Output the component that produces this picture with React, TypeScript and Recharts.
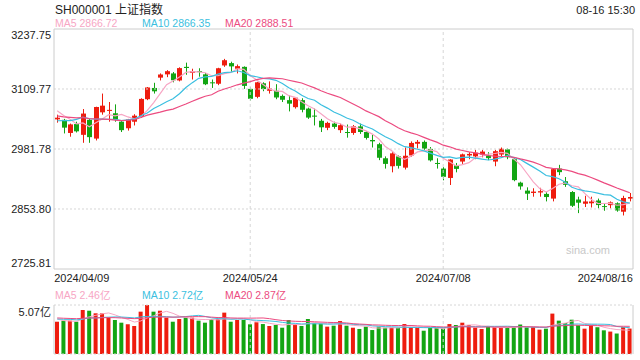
import React from 'react';
import { ComposedChart, Bar, Line, XAxis, YAxis, ReferenceLine, Cell } from 'recharts';

const RED = '#ee1c0e';
const GREEN = '#13a513';
const MA5_COLOR = '#f7a6c4';
const MA10_COLOR = '#3bbfe0';
const MA20_COLOR = '#ec4b80';
const FONT = "Arial, 'Liberation Sans', 'Noto Sans CJK SC', sans-serif";

const dates = [
  '2024/04/09', '2024/04/10', '2024/04/11', '2024/04/12', '2024/04/15', '2024/04/16', '2024/04/17', '2024/04/18', '2024/04/19', '2024/04/22',
  '2024/04/23', '2024/04/24', '2024/04/25', '2024/04/26', '2024/04/29', '2024/04/30', '2024/05/06', '2024/05/07', '2024/05/08', '2024/05/09',
  '2024/05/10', '2024/05/13', '2024/05/14', '2024/05/15', '2024/05/16', '2024/05/17', '2024/05/20', '2024/05/21', '2024/05/22', '2024/05/23',
  '2024/05/24', '2024/05/27', '2024/05/28', '2024/05/29', '2024/05/30', '2024/05/31', '2024/06/03', '2024/06/04', '2024/06/05', '2024/06/06',
  '2024/06/07', '2024/06/11', '2024/06/12', '2024/06/13', '2024/06/14', '2024/06/17', '2024/06/18', '2024/06/19', '2024/06/20', '2024/06/21',
  '2024/06/24', '2024/06/25', '2024/06/26', '2024/06/27', '2024/06/28', '2024/07/01', '2024/07/02', '2024/07/03', '2024/07/04', '2024/07/05',
  '2024/07/08', '2024/07/09', '2024/07/10', '2024/07/11', '2024/07/12', '2024/07/15', '2024/07/16', '2024/07/17', '2024/07/18', '2024/07/19',
  '2024/07/22', '2024/07/23', '2024/07/24', '2024/07/25', '2024/07/26', '2024/07/29', '2024/07/30', '2024/07/31', '2024/08/01', '2024/08/02',
  '2024/08/05', '2024/08/06', '2024/08/07', '2024/08/08', '2024/08/09', '2024/08/12', '2024/08/13', '2024/08/14', '2024/08/15', '2024/08/16',
];

const opens = [
  3045, 3044, 3016, 3035, 3012, 3044, 3004, 3060, 3063, 3058,
  3040, 3026, 3040, 3050, 3088, 3112, 3134, 3141, 3143, 3128,
  3157, 3144, 3148, 3141, 3124, 3121, 3160, 3165, 3153, 3157,
  3110, 3093, 3122, 3106, 3106, 3095, 3086, 3071, 3086, 3068,
  3053, 3042, 3027, 3036, 3022, 3018, 3016, 3030, 3018, 3001,
  2992, 2962, 2945, 2966, 2942, 2968, 2993, 2997, 2982, 2952,
  2940, 2920, 2947, 2955, 2968, 2966, 2970, 2968, 2955, 2970,
  2981, 2960, 2910, 2893, 2888, 2889, 2886, 2876, 2940, 2913,
  2890, 2874, 2865, 2866, 2872, 2860, 2862, 2866, 2848, 2876,
];
const highs = [
  3055, 3046, 3036, 3040, 3067, 3046, 3072, 3100, 3082, 3077,
  3042, 3046, 3056, 3090, 3114, 3123, 3143, 3150, 3146, 3156,
  3166, 3153, 3154, 3144, 3130, 3155, 3174, 3168, 3162, 3158,
  3113, 3125, 3124, 3126, 3120, 3098, 3096, 3092, 3090, 3070,
  3068, 3046, 3040, 3040, 3036, 3034, 3033, 3036, 3020, 3012,
  2995, 2966, 2975, 2968, 2985, 2998, 3001, 3000, 2986, 2962,
  2943, 2960, 2952, 2972, 2975, 2980, 2980, 2975, 2980, 2985,
  2983, 2962, 2912, 2900, 2898, 2899, 2890, 2940, 2948, 2922,
  2892, 2880, 2882, 2880, 2876, 2866, 2870, 2868, 2882, 2888,
];
const lows = [
  3038, 3015, 3008, 3017, 2995, 2995, 3000, 3055, 3040, 3040,
  3018, 3021, 3032, 3048, 3086, 3100, 3128, 3135, 3124, 3126,
  3140, 3130, 3136, 3118, 3112, 3118, 3157, 3146, 3143, 3110,
  3085, 3090, 3105, 3100, 3088, 3082, 3062, 3068, 3060, 3046,
  3032, 3018, 3022, 3025, 3016, 3006, 3012, 3014, 3002, 2985,
  2958, 2940, 2932, 2940, 2938, 2965, 2983, 2980, 2955, 2940,
  2915, 2905, 2932, 2950, 2960, 2960, 2964, 2958, 2945, 2966,
  2960, 2913, 2895, 2873, 2880, 2880, 2870, 2870, 2926, 2901,
  2858, 2845, 2858, 2857, 2855, 2850, 2855, 2848, 2840, 2870,
];
const closes = [
  3048.54, 3027.34, 3034.25, 3019.47, 3057.38, 3007.07, 3071.38, 3074.22, 3065.26, 3044.6,
  3021.98, 3044.82, 3052.9, 3088.64, 3113.04, 3104.82, 3140.72, 3147.74, 3128.48, 3154.32,
  3154.55, 3148.02, 3145.77, 3119.9, 3122.4, 3154.03, 3171.15, 3157.97, 3158.54, 3116.39,
  3088.87, 3124.04, 3109.57, 3111.02, 3091.68, 3086.81, 3078.49, 3091.2, 3065.4, 3048.79,
  3051.28, 3028.05, 3037.47, 3028.92, 3032.63, 3015.89, 3030.25, 3018.05, 3005.44, 2998.14,
  2963.1, 2950.0, 2972.53, 2945.85, 2967.4, 2994.73, 2997.01, 2982.38, 2957.57, 2949.93,
  2922.45, 2959.37, 2939.36, 2970.39, 2971.3, 2974.01, 2976.3, 2962.25, 2977.13, 2982.31,
  2964.22, 2915.37, 2901.95, 2886.43, 2890.9, 2891.85, 2879.3, 2938.75, 2932.39, 2905.34,
  2860.7, 2867.28, 2869.9, 2869.83, 2862.19, 2858.2, 2867.95, 2850.65, 2877.36, 2879.43,
];
// volume in 亿
const volumes = [
  3.34, 3.45, 3.45, 3.34, 4.55, 4.48, 4.21, 4.21, 3.8, 3.52,
  3.24, 3.07, 2.9, 4.38, 5.07, 4.38, 4.48, 3.76, 3.34, 3.62,
  3.76, 3.76, 3.45, 3.24, 3.59, 3.62, 4.28, 3.34, 3.52, 3.52,
  3.07, 3.28, 3.1, 2.9, 3.0, 2.72, 3.52, 3.07, 2.9, 3.62,
  3.17, 3.17, 2.83, 2.93, 3.41, 2.93, 2.72, 2.59, 2.83, 2.48,
  2.83, 2.72, 2.72, 2.72, 3.1, 2.76, 2.72, 2.41, 2.76, 2.72,
  2.66, 3.1, 3.0, 3.24, 3.0, 2.72, 2.59, 2.83, 2.76, 2.76,
  2.75, 2.75, 3.05, 2.75, 2.8, 2.52, 2.62, 4.18, 3.45, 3.2,
  3.55, 2.98, 2.62, 2.98, 2.77, 2.45, 2.32, 2.12, 2.78, 2.63,
];

// sessions before the visible window, used for the moving averages
const priorCloses = [
  3068.46, 3055.94, 3043.83, 3038.23, 3054.64, 3084.93, 3079.69, 3077.11, 3077.38, 3048.03,
  3026.31, 3031.48, 2993.14, 3010.66, 3041.17, 3077.38, 3074.96, 3069.3, 3047.05,
];
const priorVolumes = [
  4.1, 3.9, 3.8, 3.7, 3.9, 4.0, 3.8, 3.7, 3.6, 3.9,
  3.8, 3.5, 3.9, 3.6, 3.4, 4.2, 3.7, 3.5, 3.3,
];

const priceTicks = [3237.75, 3109.77, 2981.78, 2853.8, 2725.81];
const volumeTicks = [0, 5.07];
const dateTicks = ['2024/04/09', '2024/05/24', '2024/07/08', '2024/08/16'];
const dividerDates = ['2024/05/24', '2024/07/08'];

const movingAvg = (vals: number[], prior: number[], n: number) => {
  const all = prior.concat(vals);
  return vals.map((_, i) => {
    const end = prior.length + i + 1;
    const win = all.slice(end - n, end);
    return win.reduce((a, b) => a + b, 0) / win.length;
  });
};

const ma5 = movingAvg(closes, priorCloses, 5);
const ma10 = movingAvg(closes, priorCloses, 10);
const ma20 = movingAvg(closes, priorCloses, 20);
const vma5 = movingAvg(volumes, priorVolumes, 5);
const vma10 = movingAvg(volumes, priorVolumes, 10);
const vma20 = movingAvg(volumes, priorVolumes, 20);

const data = dates.map((date, i) => ({
  date,
  open: opens[i],
  high: highs[i],
  low: lows[i],
  close: closes[i],
  range: [lows[i], highs[i]],
  ma5: ma5[i],
  ma10: ma10[i],
  ma20: ma20[i],
  vol: volumes[i],
  vma5: vma5[i],
  vma10: vma10[i],
  vma20: vma20[i],
}));

const Candle = (props: any) => {
  const { x, y, width, height, payload } = props;
  if (!payload) return null;
  const { open, close, high, low } = payload;
  const color = close >= open ? RED : GREEN;
  const ratio = height / (high - low || 1);
  const cx = Math.round(x + width / 2) + 0.5;
  const top = y + (high - Math.max(open, close)) * ratio;
  const bodyH = Math.max(Math.abs(close - open) * ratio, 1);
  return (
    <g>
      <line x1={cx} x2={cx} y1={y} y2={y + height} stroke={color} strokeWidth={1} />
      <rect x={cx - 2.5} y={top} width={5} height={bodyH} fill={color} />
    </g>
  );
};

const PriceTick = (props: any) => {
  const { x, y, payload } = props;
  const v = payload.value;
  let dy = 4;
  if (v === priceTicks[0]) dy = 10;
  if (v === priceTicks[priceTicks.length - 1]) dy = -2;
  return (
    <text x={x} y={y + dy} textAnchor="end" fontSize={11} fill="#222" fontFamily={FONT}>
      {v.toFixed(2)}
    </text>
  );
};

const VolumeTick = (props: any) => {
  const { x, y, payload } = props;
  const v = payload.value;
  const top = v !== 0;
  return (
    <text x={x} y={y + (top ? 11 : -1)} textAnchor="end" fontSize={11} fill="#222" fontFamily={FONT}>
      {top ? `${v.toFixed(2)}亿` : '0'}
    </text>
  );
};

const DateTick = (props: any) => {
  const { x, y, payload } = props;
  const v = payload.value;
  let anchor = 'middle';
  let dx = 0;
  if (v === dateTicks[0]) { anchor = 'start'; dx = -3; }
  if (v === dateTicks[dateTicks.length - 1]) { anchor = 'end'; dx = 3; }
  return (
    <text x={x + dx} y={y + 13} textAnchor={anchor} fontSize={11} fill="#222" fontFamily={FONT}>
      {v}
    </text>
  );
};

const label = (left: number, top: number, color: string, text: string, size = 10.5) => (
  <span style={{ position: 'absolute', left, top, color, fontSize: size, lineHeight: '12px', whiteSpace: 'nowrap' }}>{text}</span>
);

export default function App() {
  return (
    <div style={{ position: 'absolute', left: 0, top: 0, width: 640, height: 360, background: '#fff', fontFamily: FONT, overflow: 'hidden' }}>
      <span style={{ position: 'absolute', left: 55, top: 3, fontSize: 12, lineHeight: '14px', color: '#222' }}>SH000001 上证指数</span>
      <span style={{ position: 'absolute', right: 5, top: 4, fontSize: 11, lineHeight: '12px', color: '#222' }}>08-16 15:30</span>
      {label(55, 17, MA5_COLOR, 'MA5 2866.72')}
      {label(142, 17, MA10_COLOR, 'MA10 2866.35')}
      {label(225, 17, MA20_COLOR, 'MA20 2888.51')}
      {label(55, 289, MA5_COLOR, 'MA5 2.46亿')}
      {label(142, 289, MA10_COLOR, 'MA10 2.72亿')}
      {label(225, 289, MA20_COLOR, 'MA20 2.87亿')}
      <span style={{ position: 'absolute', left: 566, top: 244, fontSize: 11, lineHeight: '12px', color: '#c8c8c8' }}>sina.com</span>

      <div style={{ position: 'absolute', left: 0, top: 0 }}>
        <ComposedChart width={640} height={290} data={data} margin={{ top: 29, right: 0, left: 0, bottom: 0 }}>
          <XAxis
            dataKey="date"
            ticks={dateTicks}
            interval={0}
            tickLine={false}
            tickSize={0}
            tickMargin={0}
            height={21}
            axisLine={{ stroke: '#ccc' }}
            tick={<DateTick />}
          />
          <YAxis
            width={54}
            domain={[priceTicks[4], priceTicks[0]]}
            ticks={priceTicks}
            allowDataOverflow
            tickLine={false}
            tickSize={0}
            tickMargin={3}
            axisLine={{ stroke: '#ccc' }}
            tick={<PriceTick />}
          />
          <YAxis yAxisId="right" orientation="right" width={7} tick={false} tickLine={false} axisLine={{ stroke: '#ccc' }} />
          <ReferenceLine y={priceTicks[0]} stroke="#ccc" ifOverflow="extendDomain" />
          {priceTicks.slice(1, 4).map((t) => (
            <ReferenceLine key={t} y={t} stroke="#d6d6d6" strokeDasharray="2 2" />
          ))}
          {dividerDates.map((d) => (
            <ReferenceLine key={d} x={d} stroke="#d6d6d6" strokeDasharray="3 3" />
          ))}
          <Bar dataKey="range" shape={<Candle />} isAnimationActive={false} />
          <Line type="linear" dataKey="ma5" stroke={MA5_COLOR} strokeWidth={1.2} dot={false} isAnimationActive={false} />
          <Line type="linear" dataKey="ma10" stroke={MA10_COLOR} strokeWidth={1.2} dot={false} isAnimationActive={false} />
          <Line type="linear" dataKey="ma20" stroke={MA20_COLOR} strokeWidth={1.2} dot={false} isAnimationActive={false} />
        </ComposedChart>
      </div>

      <div style={{ position: 'absolute', left: 0, top: 285 }}>
        <ComposedChart width={640} height={75} data={data} margin={{ top: 20, right: 0, left: 0, bottom: 6 }}>
          <XAxis dataKey="date" hide />
          <YAxis
            width={54}
            domain={[0, volumeTicks[1]]}
            ticks={volumeTicks}
            allowDataOverflow
            tickLine={false}
            tickSize={0}
            tickMargin={3}
            axisLine={{ stroke: '#ccc' }}
            tick={<VolumeTick />}
          />
          <YAxis yAxisId="right" orientation="right" width={7} tick={false} tickLine={false} axisLine={{ stroke: '#ccc' }} />
          <ReferenceLine y={volumeTicks[1]} stroke="#d6d6d6" strokeDasharray="2 2" />
          <ReferenceLine y={0} stroke="#d6d6d6" strokeDasharray="2 2" />
          {dividerDates.map((d) => (
            <ReferenceLine key={d} x={d} stroke="#d6d6d6" strokeDasharray="3 3" />
          ))}
          <Bar dataKey="vol" barSize={4} isAnimationActive={false}>
            {data.map((d, i) => (
              <Cell key={i} fill={d.close >= d.open ? RED : GREEN} />
            ))}
          </Bar>
          <Line type="linear" dataKey="vma5" stroke={MA5_COLOR} strokeWidth={1} dot={false} isAnimationActive={false} />
          <Line type="linear" dataKey="vma10" stroke={MA10_COLOR} strokeWidth={1} dot={false} isAnimationActive={false} />
          <Line type="linear" dataKey="vma20" stroke={MA20_COLOR} strokeWidth={1} dot={false} isAnimationActive={false} />
        </ComposedChart>
      </div>
    </div>
  );
}
